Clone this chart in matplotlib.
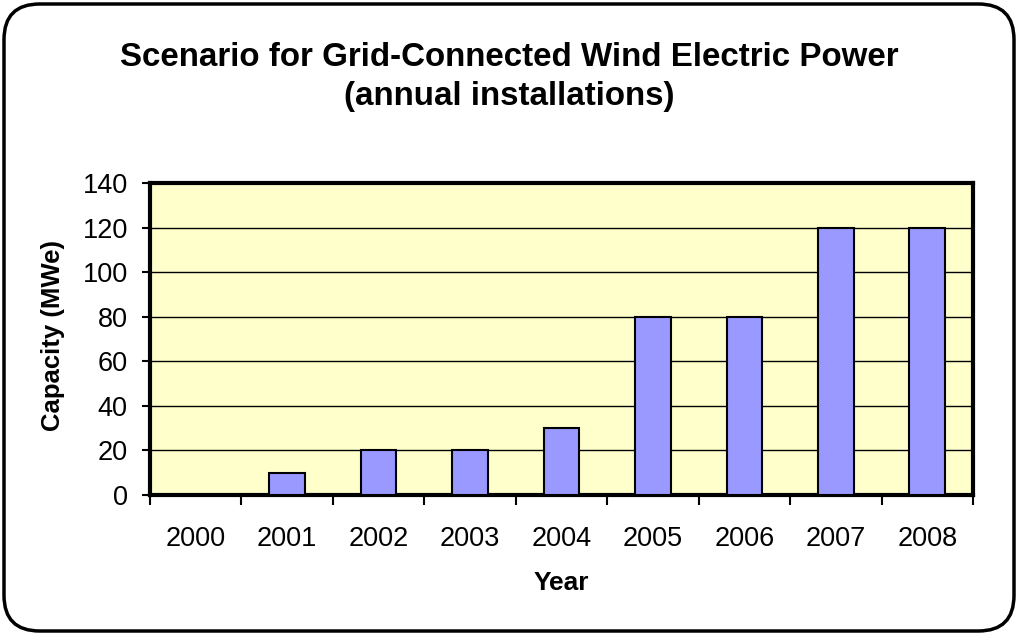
import numpy as np
import matplotlib.pyplot as plt
from matplotlib.patches import FancyBboxPatch

plt.rcParams['font.family'] = ['Liberation Sans', 'DejaVu Sans']

years = ['2000', '2001', '2002', '2003', '2004', '2005', '2006', '2007', '2008']
capacity = [0, 10, 20, 20, 30, 80, 80, 120, 120]
yticks = [0, 20, 40, 60, 80, 100, 120, 140]

W, H = 1018, 635
fig = plt.figure(figsize=(W / 100, H / 100), dpi=100)

# rounded outer frame
frame = FancyBboxPatch((4 / W, 4 / H), (W - 8) / W, (H - 8) / H,
                       boxstyle='round,pad=0,rounding_size=0.035',
                       transform=fig.transFigure, facecolor='white',
                       edgecolor='black', linewidth=2.5, mutation_aspect=W / H,
                       zorder=-10)
fig.patches.append(frame)

# plot area in pixels: left 150, right 973, top 183, bottom 495
ax = fig.add_axes([150 / W, 1 - 495 / H, (973 - 150) / W, (495 - 183) / H])
ax.set_zorder(5)
ax.set_facecolor('#FFFFCC')

x = np.arange(len(years))
ax.bar(x, capacity, width=0.39, color='#9999FF', edgecolor='black',
       linewidth=1.5, zorder=3)

ax.set_xlim(-0.5, len(years) - 0.5)
ax.set_ylim(0, 140)
ax.set_yticks(yticks)
ax.set_yticklabels([str(v) for v in yticks], fontsize=19.5)
ax.grid(axis='y', color='black', linewidth=1.0, zorder=1)

# ticks between categories, labels at centers
ax.set_xticks(np.arange(-0.5, len(years) - 0.4, 1.0))
ax.set_xticklabels([])
ax.set_xticks(x, minor=True)
ax.set_xticklabels(years, minor=True, fontsize=19.5)
ax.tick_params(axis='x', which='major', length=7, width=1.5, direction='out')
ax.tick_params(axis='x', which='minor', length=0, pad=22)
ax.tick_params(axis='y', length=6, width=1.5, direction='out', pad=10)

for side in ['left', 'right', 'top', 'bottom']:
    ax.spines[side].set_linewidth(3)
ax.set_axisbelow(True)

ax.set_xlabel('Year', fontsize=19, fontweight='bold')
ax.set_ylabel('Capacity (MWe)', fontsize=18.5, fontweight='bold')
ax.xaxis.set_label_coords(0.5, (495 - 571) / 312)
ax.yaxis.set_label_coords((65 - 150) / 823, 0.51)

fig.text(509 / W, 1 - 77 / H,
         'Scenario for Grid-Connected Wind Electric Power\n(annual installations)',
         ha='center', va='center', fontsize=23.9, fontweight='bold', linespacing=1.37)

plt.savefig('out.png', dpi=100)
